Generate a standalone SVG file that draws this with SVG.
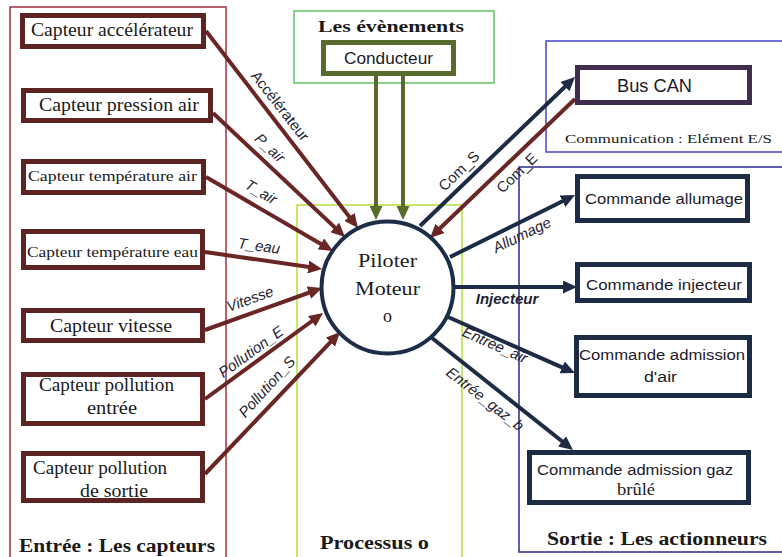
<svg xmlns="http://www.w3.org/2000/svg" width="782" height="557" viewBox="0 0 782 557">
<style>
.serif{font-family:"Liberation Serif","DejaVu Serif",serif;fill:#1a1a1a}
.sans{font-family:"Liberation Sans","DejaVu Sans",sans-serif;fill:#1a1a2a}
.lbl{font-family:"Liberation Sans",Arial,sans-serif;font-size:15px;font-style:italic;fill:#1f1f33;text-anchor:middle}
.bold{font-weight:bold}
.sensor{fill:#fff;stroke:#5e2424;stroke-width:5}
.act{fill:#fff;stroke:#1d2b45;stroke-width:5}
.in{stroke:#6a2525;stroke-width:4;fill:none;marker-end:url(#mR)}
.out{stroke:#1d2b45;stroke-width:4;fill:none;marker-end:url(#mN)}
.ev{stroke:#596b2c;stroke-width:4;fill:none;marker-end:url(#mG)}
.frame{fill:none;stroke-width:1.5}
</style>
<defs>
<marker id="mR" markerUnits="userSpaceOnUse" markerWidth="14" markerHeight="13" refX="8" refY="6.5" orient="auto"><path d="M0,0 L14,6.5 L0,13 z" fill="#6a2525"/></marker>
<marker id="mN" markerUnits="userSpaceOnUse" markerWidth="14" markerHeight="13" refX="8" refY="6.5" orient="auto"><path d="M0,0 L14,6.5 L0,13 z" fill="#1d2b45"/></marker>
<marker id="mG" markerUnits="userSpaceOnUse" markerWidth="14" markerHeight="13" refX="8" refY="6.5" orient="auto"><path d="M0,0 L14,6.5 L0,13 z" fill="#596b2c"/></marker>
</defs>
<rect width="782" height="557" fill="#fff"/>

<g id="containers">
<rect class="frame" x="10" y="7" width="216" height="560" stroke="#a0303f"/>
<rect class="frame" x="294" y="11" width="200" height="72" stroke="#5cc36a"/>
<rect class="frame" x="297" y="205" width="165" height="360" stroke="#b5e03a"/>
<rect class="frame" x="546" y="41" width="250" height="111" stroke="#4646c8"/>
<rect class="frame" x="519" y="167" width="280" height="385" stroke="#2a2a8c"/>
<text class="serif bold" x="19" y="552" font-size="18" textLength="196" lengthAdjust="spacingAndGlyphs">Entrée : Les capteurs</text>
<text class="serif bold" x="318" y="32" font-size="17" textLength="146" lengthAdjust="spacingAndGlyphs">Les évènements</text>
<text class="serif bold" x="320" y="549" font-size="18" textLength="109" lengthAdjust="spacingAndGlyphs">Processus o</text>
<text class="serif bold" x="547" y="545" font-size="18" textLength="220" lengthAdjust="spacingAndGlyphs">Sortie : Les actionneurs</text>
<text class="serif" x="565" y="143" font-size="13" textLength="207" lengthAdjust="spacingAndGlyphs">Communication : Elément E/S</text>
</g>

<g id="connectors">
<path class="in" d="M206,31 L354.3,223.2"/>
<path class="in" d="M213,113 L340.6,232.9"/>
<path class="in" d="M206,177 L327.8,248"/>
<path class="in" d="M205,252 L316.1,268.1"/>
<path class="in" d="M205,330 L316.4,290"/>
<path class="in" d="M205,399 L318.2,316.5"/>
<path class="in" d="M205,474 L335.9,336.4"/>
<path class="ev" d="M376,76 L376,214"/>
<path class="ev" d="M403,76 L403,214"/>
<path class="out" d="M420,226 L570.7,81.2"/>
<path class="in" d="M575,99 L434.3,233.8"/>
<path class="out" d="M450,257 L569.6,197.7"/>
<path class="out" d="M453,287 L571,287"/>
<path class="out" d="M448,317 L569.5,370.6"/>
<path class="out" d="M432,338 L568.3,446.3"/>
<text class="lbl" style="font-style:normal" transform="translate(280,106) rotate(52)" y="5">Accélérateur</text>
<text class="lbl" transform="translate(270,148) rotate(43)" y="5">P_air</text>
<text class="lbl" transform="translate(261,192) rotate(31)" y="5">T_air</text>
<text class="lbl" transform="translate(259,246) rotate(8)" y="5">T_eau</text>
<text class="lbl" transform="translate(250,299) rotate(-20)" y="5">Vitesse</text>
<text class="lbl" transform="translate(251,352) rotate(-36)" y="5">Pollution_E</text>
<text class="lbl" transform="translate(267,387) rotate(-48)" y="5">Pollution_S</text>
<text class="lbl" style="font-style:normal" transform="translate(459,171) rotate(-44)" y="5">Com_S</text>
<text class="lbl" style="font-style:normal" transform="translate(517,173) rotate(-44)" y="5">Com_E</text>
<text class="lbl" transform="translate(522,235) rotate(-26)" y="5">Allumage</text>
<text class="lbl bold" transform="translate(507,299)" y="5">Injecteur</text>
<text class="lbl" transform="translate(495,345) rotate(24)" y="5">Entrée_air</text>
<text class="lbl" transform="translate(485,399) rotate(38)" y="5">Entrée_gaz_b</text>
</g>

<g id="capteur-accelerateur">
<rect class="sensor" x="22.5" y="15.5" width="181" height="31"/>
<text class="serif" x="31" y="36" font-size="18" textLength="162" lengthAdjust="spacingAndGlyphs">Capteur accélérateur</text>
</g>
<g id="capteur-pression-air">
<rect class="sensor" x="23.5" y="90.5" width="187" height="30"/>
<text class="serif" x="39" y="111" font-size="18" textLength="160" lengthAdjust="spacingAndGlyphs">Capteur pression air</text>
</g>
<g id="capteur-temperature-air">
<rect class="sensor" x="23.5" y="161.5" width="180" height="31"/>
<text class="serif" x="28" y="181" font-size="14.5" textLength="169" lengthAdjust="spacingAndGlyphs">Capteur température  air</text>
</g>
<g id="capteur-temperature-eau">
<rect class="sensor" x="23.5" y="231.5" width="179" height="36"/>
<text class="serif" x="27" y="257" font-size="14.5" textLength="171" lengthAdjust="spacingAndGlyphs">Capteur température eau</text>
</g>
<g id="capteur-vitesse">
<rect class="sensor" x="23.5" y="310.5" width="179" height="30"/>
<text class="serif" x="50" y="332" font-size="18" textLength="122" lengthAdjust="spacingAndGlyphs">Capteur vitesse</text>
</g>
<g id="capteur-pollution-entree">
<rect class="sensor" x="23.5" y="374.5" width="179" height="49"/>
<text class="serif" x="39" y="391" font-size="18" textLength="135" lengthAdjust="spacingAndGlyphs">Capteur pollution</text>
<text class="serif" x="87" y="414" font-size="18" textLength="50" lengthAdjust="spacingAndGlyphs">entrée</text>
</g>
<g id="capteur-pollution-sortie">
<rect class="sensor" x="23.5" y="453.5" width="179" height="47"/>
<text class="serif" x="33" y="474" font-size="18" textLength="134" lengthAdjust="spacingAndGlyphs">Capteur pollution</text>
<text class="serif" x="80" y="497" font-size="18" textLength="68" lengthAdjust="spacingAndGlyphs">de sortie</text>
</g>

<g id="conducteur">
<rect x="323.5" y="42.5" width="130" height="31" fill="#fff" stroke="#596b2c" stroke-width="5"/>
<text class="sans" x="344" y="64" font-size="16" textLength="89" lengthAdjust="spacingAndGlyphs">Conducteur</text>
</g>

<g id="piloter-moteur">
<circle cx="387.5" cy="287.5" r="66" fill="#fff" stroke="#1b2d47" stroke-width="4"/>
<text class="serif" x="387.5" y="267" font-size="18" text-anchor="middle" textLength="59" lengthAdjust="spacingAndGlyphs">Piloter</text>
<text class="serif" x="387.5" y="295" font-size="18" text-anchor="middle" textLength="65" lengthAdjust="spacingAndGlyphs">Moteur</text>
<text class="serif" x="387.5" y="322" font-size="18" text-anchor="middle">o</text>
</g>

<g id="bus-can">
<rect x="577.5" y="67.5" width="172" height="35" fill="#fff" stroke="#3f2d4e" stroke-width="5"/>
<text class="sans" x="617" y="92" font-size="18" textLength="75" lengthAdjust="spacingAndGlyphs">Bus CAN</text>
</g>
<g id="commande-allumage">
<rect class="act" x="577.5" y="176.5" width="170" height="44"/>
<text class="sans" x="585" y="204" font-size="15.5" textLength="158" lengthAdjust="spacingAndGlyphs">Commande allumage</text>
</g>
<g id="commande-injecteur">
<rect class="act" x="577.5" y="264.5" width="172" height="36"/>
<text class="sans" x="586" y="290" font-size="15.5" textLength="156" lengthAdjust="spacingAndGlyphs">Commande injecteur</text>
</g>
<g id="commande-admission-air">
<rect class="act" x="576.5" y="337.5" width="173" height="58"/>
<text class="sans" x="579" y="360" font-size="15.5" textLength="166" lengthAdjust="spacingAndGlyphs">Commande admission</text>
<text class="sans" x="644" y="382" font-size="15.5" textLength="33" lengthAdjust="spacingAndGlyphs">d'air</text>
</g>
<g id="commande-admission-gaz">
<rect class="act" x="529.5" y="452.5" width="219" height="50"/>
<text class="sans" x="537" y="475" font-size="15.5" textLength="196" lengthAdjust="spacingAndGlyphs">Commande admission gaz</text>
<text class="serif" x="617" y="495" font-size="16" textLength="38" lengthAdjust="spacingAndGlyphs">brûlé</text>
</g>
</svg>
